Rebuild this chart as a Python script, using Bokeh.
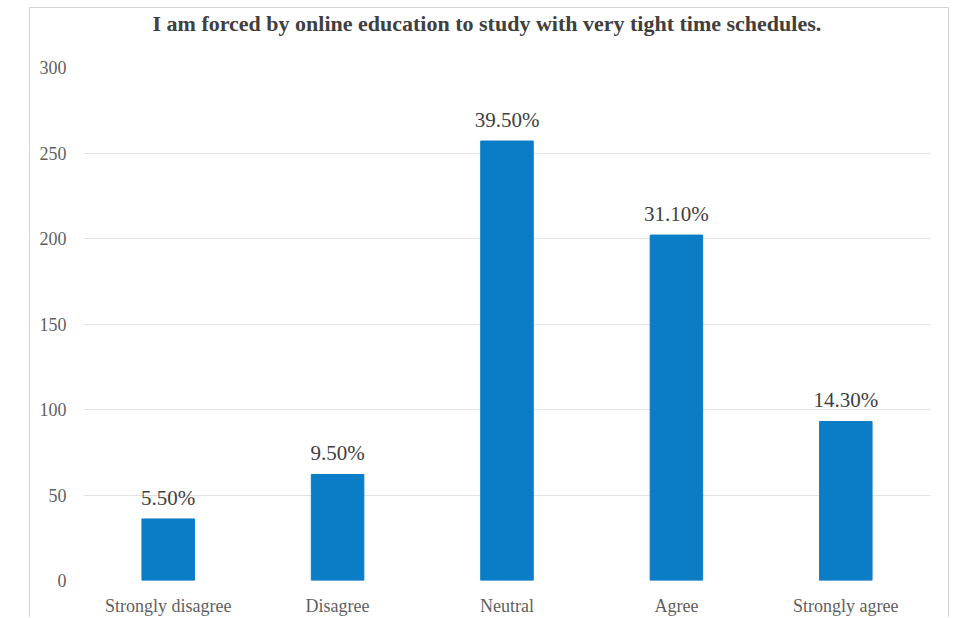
from bokeh.plotting import figure
from bokeh.models import ColumnDataSource, SingleIntervalTicker, LabelSet, Title
from bokeh.embed import file_html
from bokeh.resources import INLINE

# Survey responses (counts) and their shares of all respondents
categories = ["Strongly disagree", "Disagree", "Neutral", "Agree", "Strongly agree"]
counts = [36, 62, 257, 202, 93]
shares = ["5.50%", "9.50%", "39.50%", "31.10%", "14.30%"]

title_text = "I am forced by online education to study with very tight time schedules."

source = ColumnDataSource(data=dict(cat=categories, count=counts, share=shares))

SERIF = "Liberation Serif"
BAR = "#0B7DC6"

p = figure(
    x_range=categories,
    y_range=(0, 300),
    width=920,
    height=610,
    output_backend="svg",
    toolbar_location=None,
    min_border_left=53,
    min_border_right=20,
    min_border_top=56,
    min_border_bottom=34,
    margin=(7, 0, 0, 29),
    styles={
        "border-left": "1px solid #d3d3d3",
        "border-top": "1px solid #d3d3d3",
        "border-right": "1px solid #d3d3d3",
    },
)

# Heading in the built-in title slot, at the top of the chart box
p.title.text = title_text
p.title.align = "left"
p.title.offset = 69
p.title.standoff = 0
p.title.text_font = SERIF
p.title.text_font_size = "22px"
p.title.text_font_style = "bold"
p.title.text_color = "#404040"

# Blank title row between the heading and the plot area, to open a gap
spacer = Title(text=" ", standoff=13, text_font=SERIF, text_font_size="16px")
p.add_layout(spacer, "above")

p.vbar(x="cat", top="count", width=0.31, source=source, color=BAR)

labels = LabelSet(
    x="cat", y="count", text="share", source=source,
    text_align="center", text_baseline="bottom", y_offset=9,
    text_font=SERIF, text_font_size="21px", text_color="#404040",
)
p.add_layout(labels)

p.outline_line_color = None
p.background_fill_color = "white"
p.border_fill_color = "white"

p.xgrid.grid_line_color = None
p.ygrid.grid_line_color = "#e3e3e3"
p.ygrid.grid_line_width = 1

p.yaxis.ticker = SingleIntervalTicker(interval=50)
for ax in (p.xaxis, p.yaxis):
    ax.axis_line_color = None
    ax.major_tick_line_color = None
    ax.minor_tick_line_color = None
    ax.major_label_text_font = SERIF
    ax.major_label_text_font_size = "18px"
    ax.major_label_text_color = "#5f5f5f"

p.yaxis.major_label_standoff = 11
p.xaxis.major_label_standoff = 9

open("out.html", "w").write(file_html(p, INLINE))
